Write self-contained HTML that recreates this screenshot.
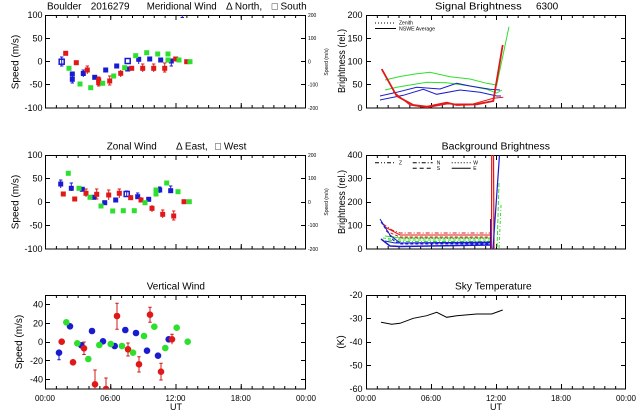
<!DOCTYPE html>
<html><head><meta charset="utf-8"><style>
html,body{margin:0;padding:0;background:#fff;}
svg{display:block;}
text{font-family:"Liberation Sans",sans-serif;fill:#000;}
.t{font-size:10px;}
.k{font-size:9px;}
.x{font-size:8px;}
.s{font-size:5px;}
</style></head><body>
<svg width="640" height="420" viewBox="0 0 640 420" xmlns="http://www.w3.org/2000/svg">
<rect width="640" height="420" fill="#fff"/>
<defs>
<clipPath id="c1"><rect x="45" y="15" width="261" height="93"/></clipPath>
<clipPath id="c2"><rect x="366" y="15" width="260" height="93"/></clipPath>
<clipPath id="c3"><rect x="45" y="155" width="261" height="94"/></clipPath>
<clipPath id="c4"><rect x="366" y="155" width="260" height="94"/></clipPath>
<clipPath id="c5"><rect x="45" y="295" width="261" height="94"/></clipPath>
<clipPath id="c6"><rect x="366" y="295" width="260" height="94"/></clipPath>
</defs>

<!-- ===== Frames and ticks ===== -->
<g fill="none" stroke="#000" stroke-width="1">
<rect x="45.5" y="15.5" width="260" height="92.5"/>
<rect x="366.5" y="15.5" width="259" height="92.5"/>
<rect x="45.5" y="155.5" width="260" height="93.5"/>
<rect x="366.5" y="155.5" width="259" height="93.5"/>
<rect x="45.5" y="295.5" width="260" height="93.5"/>
<rect x="366.5" y="295.5" width="259" height="93.5"/>
</g>
<!-- x minor ticks -->
<g stroke="#000" fill="none">
<g stroke-width="3" stroke-dasharray="1 9.875">
<line x1="45" y1="106.5" x2="306" y2="106.5"/><line x1="45" y1="16.5" x2="306" y2="16.5"/>
<line x1="45" y1="247.5" x2="306" y2="247.5"/><line x1="45" y1="156.5" x2="306" y2="156.5"/>
<line x1="45" y1="387.5" x2="306" y2="387.5"/><line x1="45" y1="296.5" x2="306" y2="296.5"/>
</g>
<g stroke-width="3" stroke-dasharray="1 9.833">
<line x1="366" y1="106.5" x2="626" y2="106.5"/><line x1="366" y1="16.5" x2="626" y2="16.5"/>
<line x1="366" y1="247.5" x2="626" y2="247.5"/><line x1="366" y1="156.5" x2="626" y2="156.5"/>
<line x1="366" y1="387.5" x2="626" y2="387.5"/><line x1="366" y1="296.5" x2="626" y2="296.5"/>
</g>
<g stroke-width="5" stroke-dasharray="1 64.25">
<line x1="45" y1="105.5" x2="306" y2="105.5"/><line x1="45" y1="17.5" x2="306" y2="17.5"/>
<line x1="45" y1="246.5" x2="306" y2="246.5"/><line x1="45" y1="157.5" x2="306" y2="157.5"/>
<line x1="45" y1="386.5" x2="306" y2="386.5"/><line x1="45" y1="297.5" x2="306" y2="297.5"/>
</g>
<g stroke-width="5" stroke-dasharray="1 64">
<line x1="366" y1="105.5" x2="626" y2="105.5"/><line x1="366" y1="17.5" x2="626" y2="17.5"/>
<line x1="366" y1="246.5" x2="626" y2="246.5"/><line x1="366" y1="157.5" x2="626" y2="157.5"/>
<line x1="366" y1="386.5" x2="626" y2="386.5"/><line x1="366" y1="297.5" x2="626" y2="297.5"/>
</g>
</g>
<!-- y ticks -->
<g stroke="#000" stroke-width="1">
<path d="M45,38.5h5M45,61.5h5M45,84.5h5M301,38.5h5M301,61.5h5M301,84.5h5"/>
<path d="M366,38.5h5M366,61.5h5M366,84.5h5M621,38.5h5M621,61.5h5M621,84.5h5"/>
<path d="M45,178.5h5M45,202.5h5M45,225.5h5M301,178.5h5M301,202.5h5M301,225.5h5"/>
<path d="M366,178.5h5M366,202.5h5M366,225.5h5M621,178.5h5M621,202.5h5M621,225.5h5"/>
<path d="M45,304.5h5M45,323.5h5M45,342.5h5M45,360.5h5M45,379.5h5M301,304.5h5M301,323.5h5M301,342.5h5M301,360.5h5M301,379.5h5"/>
<path d="M366,318.5h5M366,342.5h5M366,365.5h5M621,318.5h5M621,342.5h5M621,365.5h5"/>
</g>

<!-- ===== Titles ===== -->
<text class="t" x="47" y="9.5">Boulder</text>
<text class="t" x="90.7" y="9.5">2016279</text>
<text class="t" x="146.7" y="9.5" textLength="70" lengthAdjust="spacingAndGlyphs">Meridional Wind</text>
<text class="t" x="226" y="9.5">Δ North,</text>
<text class="t" x="271.7" y="9.5">□ South</text>

<text class="t" x="435" y="9.5" textLength="86.7" lengthAdjust="spacingAndGlyphs">Signal Brightness</text>
<text class="t" x="536" y="9.5">6300</text>

<text class="t" x="106.7" y="149.5" textLength="50" lengthAdjust="spacingAndGlyphs">Zonal Wind</text>
<text class="t" x="176" y="149.5">Δ East,</text>
<text class="t" x="215" y="149.5">□ West</text>

<text class="t" x="441.7" y="149.5" textLength="108.3" lengthAdjust="spacingAndGlyphs">Background Brightness</text>
<text class="t" x="146.7" y="289.5" textLength="58.3" lengthAdjust="spacingAndGlyphs">Vertical Wind</text>
<text class="t" x="455" y="289.5" textLength="76.7" lengthAdjust="spacingAndGlyphs">Sky Temperature</text>

<!-- ===== Axis titles ===== -->
<text class="t" transform="translate(18.5,62) rotate(-90)" text-anchor="middle">Speed (m/s)</text>
<text class="t" transform="translate(18.5,202) rotate(-90)" text-anchor="middle">Speed (m/s)</text>
<text class="t" transform="translate(22,342) rotate(-90)" text-anchor="middle">Speed (m/s)</text>
<text class="t" transform="translate(345,61) rotate(-90)" text-anchor="middle" textLength="64" lengthAdjust="spacingAndGlyphs">Brightness (rel.)</text>
<text class="t" transform="translate(345,202) rotate(-90)" text-anchor="middle" textLength="64" lengthAdjust="spacingAndGlyphs">Brightness (rel.)</text>
<text class="t" transform="translate(344,342) rotate(-90)" text-anchor="middle">(K)</text>
<text class="s" transform="translate(328,62) rotate(-90)" text-anchor="middle">Speed (m/s)</text>
<text class="s" transform="translate(328,202) rotate(-90)" text-anchor="middle">Speed (m/s)</text>

<!-- ===== Y tick labels ===== -->
<g class="k" text-anchor="end">
<text x="42.5" y="18">100</text><text x="42.5" y="41.5">50</text><text x="42.5" y="64.5">0</text><text x="42.5" y="87.5">-50</text><text x="42.5" y="111">-100</text>
<text x="42.5" y="158">100</text><text x="42.5" y="181.5">50</text><text x="42.5" y="205">0</text><text x="42.5" y="228.5">-50</text><text x="42.5" y="252">-100</text>
<text x="43" y="307.5">40</text><text x="43" y="326.5">20</text><text x="43" y="345">0</text><text x="43" y="364">-20</text><text x="43" y="382.5">-40</text>
<text x="362.5" y="18">200</text><text x="362.5" y="41.5">150</text><text x="362.5" y="64.5">100</text><text x="362.5" y="87.5">50</text><text x="362.5" y="111">0</text>
<text x="362.5" y="158">400</text><text x="362.5" y="181.5">300</text><text x="362.5" y="205">200</text><text x="362.5" y="228.5">100</text><text x="362.5" y="252">0</text>
<text x="362.5" y="298">-20</text><text x="362.5" y="321.5">-30</text><text x="362.5" y="345">-40</text><text x="362.5" y="368.5">-50</text><text x="362.5" y="392">-60</text>
</g>
<g class="s">
<text x="308" y="17">200</text><text x="308" y="40">100</text><text x="308" y="63.5">0</text><text x="308" y="86.5">-100</text><text x="308" y="110">-200</text>
<text x="308" y="157">200</text><text x="308" y="180">100</text><text x="308" y="204">0</text><text x="308" y="227">-100</text><text x="308" y="251">-200</text>
</g>

<!-- ===== X tick labels ===== -->
<g class="x" text-anchor="middle">
<text x="45" y="401">00:00</text><text x="110.3" y="401">06:00</text><text x="175.5" y="401">12:00</text><text x="240.8" y="401">18:00</text><text x="306" y="401">00:00</text>
<text x="366" y="401">00:00</text><text x="431" y="401">06:00</text><text x="496" y="401">12:00</text><text x="561" y="401">18:00</text><text x="626" y="401">00:00</text>
</g>
<text class="k" x="176" y="410" text-anchor="middle">UT</text>
<text class="k" x="496" y="410" text-anchor="middle">UT</text>

<!-- ===== Meridional wind ===== -->
<g clip-path="url(#c1)">
<g stroke-width="1" fill="none">
<path stroke="#1a1ad0" d="M61.7,57v9M60,57h3.4M60,66h3.4M72.3,76v7M70.6,83h3.4M83.3,70v7M81.6,70h3.4M138.7,57v7M171.3,59v7M169.6,66h3.4M182.3,15v2.5M180.6,17.5h3.4"/>
<path stroke="#e01818" d="M87.3,66v8M85.6,66h3.4M98.7,77v9M97,77h3.4M97,86h3.4M109.7,76v9M108,76h3.4M108,85h3.4M120.7,70v7M142.7,64v8M141,64h3.4M153.7,64v8M152,64h3.4M164.7,63v9M163,63h3.4M163,72h3.4"/>
</g>
<g fill="#1a1ad0">
<rect x="59.2" y="59.2" width="5" height="5" fill="none" stroke="#1a1ad0" stroke-width="1.5"/>
<rect x="69.8" y="71.5" width="5" height="5"/><rect x="69.8" y="76.8" width="5" height="5"/>
<rect x="80.8" y="71" width="5" height="5"/><rect x="92.2" y="74.8" width="5" height="5"/>
<rect x="103.2" y="67.5" width="5" height="5"/><rect x="114.2" y="63.5" width="5" height="5"/>
<rect x="125.2" y="58.5" width="5" height="5" fill="none" stroke="#1a1ad0" stroke-width="1.5"/>
<rect x="125.2" y="66.5" width="5" height="5"/><rect x="136.2" y="56.8" width="5" height="5"/>
<rect x="147.2" y="56.5" width="5" height="5"/><rect x="158.2" y="57.5" width="5" height="5"/>
<rect x="168.8" y="58.5" width="5" height="5"/>
</g>
<g fill="#e01818">
<rect x="63.2" y="50.8" width="5" height="5"/><rect x="73.8" y="60.2" width="5" height="5"/>
<rect x="84.8" y="67.5" width="5" height="5"/><rect x="96.2" y="77.5" width="5" height="5"/>
<rect x="96.2" y="80.2" width="5" height="5"/><rect x="107.2" y="78.5" width="5" height="5"/>
<rect x="118.2" y="70.8" width="5" height="5"/><rect x="129.2" y="65.8" width="5" height="5"/>
<rect x="140.2" y="65.8" width="5" height="5"/><rect x="151.2" y="65.8" width="5" height="5"/>
<rect x="162.2" y="65.8" width="5" height="5"/><rect x="173.2" y="56.5" width="5" height="5"/>
<rect x="184.2" y="59.2" width="5" height="5"/>
</g>
<g fill="#2ee02e">
<rect x="66.5" y="65.8" width="5" height="5"/><rect x="77.5" y="81.5" width="5" height="5"/>
<rect x="88.2" y="85.2" width="5" height="5"/><rect x="100.2" y="80.8" width="5" height="5"/>
<rect x="111.2" y="73.5" width="5" height="5"/><rect x="122.2" y="65.2" width="5" height="5"/>
<rect x="133.2" y="53.2" width="5" height="5"/><rect x="144.2" y="50.2" width="5" height="5"/>
<rect x="155.2" y="51.5" width="5" height="5"/><rect x="165.5" y="51.5" width="5" height="5"/>
<rect x="165.5" y="57.5" width="5" height="5"/><rect x="176.5" y="57.5" width="5" height="5"/>
<rect x="187.5" y="59.2" width="5" height="5"/>
</g>
</g>

<!-- ===== Zonal wind ===== -->
<g clip-path="url(#c3)">
<g stroke-width="1" fill="none">
<path stroke="#1a1ad0" d="M60.7,180v8M59,180h3.4M71.3,183v8M69.6,183h3.4M126.7,191v6M125,191h3.4M137.7,193v6M136,193h3.4M159.7,187v6M158,187h3.4M170.7,186v6M169,186h3.4"/>
<path stroke="#e01818" d="M86,189v8M84.3,189h3.4M96.7,189v10M95,189h3.4M95,199h3.4M108.7,190v10M107,190h3.4M119.3,189v9M117.6,189h3.4M130.7,195v5M141,197v5M152,205v7M162.7,210v8M161,210h3.4M173.7,211v9M172,211h3.4M172,220h3.4"/>
</g>
<g fill="#1a1ad0">
<rect x="58.2" y="181.5" width="5" height="5"/><rect x="68.8" y="185.8" width="5" height="5"/>
<rect x="79.8" y="186.8" width="5" height="5"/><rect x="91.2" y="194.8" width="5" height="5"/>
<rect x="102.2" y="200.2" width="5" height="5"/><rect x="113.2" y="197.5" width="5" height="5"/>
<rect x="124.2" y="191.5" width="5" height="5" fill="none" stroke="#1a1ad0" stroke-width="1.5"/>
<rect x="135.2" y="194.2" width="5" height="5"/><rect x="146.2" y="196.8" width="5" height="5"/>
<rect x="157.2" y="187.5" width="5" height="5"/><rect x="168.2" y="188.2" width="5" height="5"/>
</g>
<g fill="#e01818">
<rect x="60.8" y="191.5" width="5" height="5"/><rect x="72.2" y="196.5" width="5" height="5"/>
<rect x="83.5" y="190.8" width="5" height="5"/><rect x="94.2" y="191.8" width="5" height="5"/>
<rect x="106.2" y="192.5" width="5" height="5"/><rect x="116.8" y="190.8" width="5" height="5"/>
<rect x="128.2" y="195.2" width="5" height="5"/><rect x="138.5" y="197.5" width="5" height="5"/>
<rect x="149.5" y="205.8" width="5" height="5"/><rect x="160.2" y="211.8" width="5" height="5"/>
<rect x="171.2" y="213.5" width="5" height="5"/><rect x="181.5" y="199.2" width="5" height="5"/>
</g>
<g fill="#2ee02e">
<rect x="65.8" y="170.8" width="5" height="5"/><rect x="76.5" y="185.8" width="5" height="5"/>
<rect x="87.5" y="194.8" width="5" height="5"/><rect x="98.5" y="203.5" width="5" height="5"/>
<rect x="110.2" y="208.5" width="5" height="5"/><rect x="120.8" y="208.2" width="5" height="5"/>
<rect x="131.8" y="208.2" width="5" height="5"/><rect x="142.5" y="200.2" width="5" height="5"/>
<rect x="153.5" y="187.5" width="5" height="5"/><rect x="153.5" y="191.5" width="5" height="5"/>
<rect x="164.2" y="180.5" width="5" height="5"/><rect x="175.5" y="189.2" width="5" height="5"/>
<rect x="186.8" y="199.2" width="5" height="5"/>
</g>
</g>

<!-- ===== Vertical wind ===== -->
<g clip-path="url(#c5)">
<g stroke="#d01818" stroke-width="1" fill="none">
<path d="M84,342v12.5M82.3,342h3.4M82.3,354.5h3.4M95,370v19M93.3,370h3.4M106,378v11M104.3,378h3.4M117,303.3v26M115.3,303.3h3.4M115.3,329.3h3.4M128,343v13M126.3,343h3.4M126.3,356h3.4M139,356.7v15.3M137.3,356.7h3.4M137.3,372h3.4M150,307.3v15M148.3,307.3h3.4M148.3,322.3h3.4M161,363.3v16.7M159.3,363.3h3.4M159.3,380h3.4M172,334.3v10M170.3,334.3h3.4"/>
<path stroke="#1a1ad0" d="M59,352.7v7M57.3,359.7h3.4"/>
</g>
<g fill="#1a1ad0">
<circle cx="59" cy="352.7" r="3.3"/><circle cx="70" cy="326.3" r="3.3"/><circle cx="81.3" cy="345.3" r="3.3"/>
<circle cx="92" cy="331" r="3.3"/><circle cx="103" cy="341.3" r="3.3"/><circle cx="114.7" cy="346" r="3.3"/>
<circle cx="125.3" cy="330" r="3.3"/><circle cx="136" cy="333" r="3.3"/><circle cx="147" cy="350.7" r="3.3"/>
<circle cx="158" cy="355.7" r="3.3"/><circle cx="168.7" cy="339.3" r="3.3"/>
</g>
<g fill="#e01818">
<circle cx="61.7" cy="341.7" r="3.3"/><circle cx="73" cy="362.3" r="3.3"/><circle cx="84" cy="348.3" r="3.3"/>
<circle cx="95" cy="384.3" r="3.3"/><circle cx="106" cy="389" r="3.3"/><circle cx="117" cy="316" r="3.3"/>
<circle cx="128" cy="349.3" r="3.3"/><circle cx="139" cy="364.3" r="3.3"/><circle cx="150" cy="314.7" r="3.3"/>
<circle cx="161" cy="371.7" r="3.3"/><circle cx="172" cy="339.3" r="3.3"/>
</g>
<g fill="#2ee02e">
<circle cx="66.3" cy="322.3" r="3.3"/><circle cx="77.3" cy="343.3" r="3.3"/><circle cx="88.3" cy="359" r="3.3"/>
<circle cx="99.3" cy="345" r="3.3"/><circle cx="110.7" cy="344" r="3.3"/><circle cx="122" cy="346" r="3.3"/>
<circle cx="133" cy="352.7" r="3.3"/><circle cx="144" cy="336" r="3.3"/><circle cx="154.3" cy="326.7" r="3.3"/>
<circle cx="165.3" cy="348" r="3.3"/><circle cx="176.7" cy="327.7" r="3.3"/><circle cx="187.7" cy="341.7" r="3.3"/>
</g>
</g>

<!-- ===== Signal brightness ===== -->
<g clip-path="url(#c2)" fill="none" stroke-width="1">
<path stroke="#2ee02e" d="M385,80 L400,76.5 L415,74 L430,72.3 L450,76.7 L470,79 L486.7,83.3 L496.7,85 L509,26.7"/>
<path stroke="#2ee02e" d="M385,90 L396.7,87.3 L426.7,82.3 L446.7,82.7 L470,86 L486.7,89.3 L496.7,93 L502,90"/>
<path stroke="#1a1ad0" d="M380,96 L396.7,92.3 L416.7,87.3 L440,89 L456.7,83.3 L470,86 L490,89.3 L500,90"/>
<path stroke="#1a1ad0" d="M380,100 L403.3,95.3 L423.3,89.3 L436.7,94.3 L460,90 L480,92.3 L496.7,96 L501,96"/>
<path stroke="#e01818" stroke-width="1.8" d="M381.7,69 L396.7,96 L413.3,105 L426.7,106.7 L446.7,102.7 L456.7,105 L476.7,104.3 L493.3,101 L502.7,45"/>
<path stroke="#e01818" d="M393.3,91.7 L410,105 L426.7,107.7 L446.7,104 L473,104 L493.3,98.3 L503.3,97.3"/>
</g>
<g fill="none" stroke="#000" stroke-width="1">
<path d="M375,23h21" stroke-dasharray="1 2"/>
<path d="M375,28.5h21"/>
</g>
<text class="s" x="399" y="24.7">Zenith</text>
<text class="s" x="399" y="30.3" textLength="36" lengthAdjust="spacingAndGlyphs">NSWE Average</text>

<!-- ===== Background brightness ===== -->
<g clip-path="url(#c4)" fill="none" stroke-width="1">
<path stroke="#e01818" stroke-dasharray="4 2 1 2" d="M383,224 L392,230 L400,233 L490,233"/>
<path stroke="#e01818" d="M385,227 L400,235 L490,235"/>
<path stroke="#e01818" stroke-dasharray="3 2" d="M386,231 L400,237 L490,237"/>
<path stroke="#e01818" stroke-dasharray="1 2" d="M390,236 L400,238.5 L490,238.5"/>
<path stroke="#2ee02e" d="M385,236 L400,238 L490,238"/>
<path stroke="#2ee02e" stroke-dasharray="3 2" d="M383,238 L400,240 L490,240"/>
<path stroke="#2ee02e" stroke-dasharray="4 2 1 2" d="M388,240 L400,241.5 L490,241.5"/>
<path stroke="#1a1ad0" d="M380,219 L390,235 L400,243 L490,243"/>
<path stroke="#1a1ad0" stroke-dasharray="3 2" d="M381,222 L393,240 L400,244 L490,244"/>
<path stroke="#1a1ad0" stroke-width="1.5" d="M381,239 L390,246 L400,246.5 L490,245"/>
<path stroke="#1a1ad0" d="M385,241 L395,243 L490,242"/>
<path stroke="#e01818" stroke-width="1.2" d="M491.5,249 L491.7,155"/>
<path stroke="#e01818" stroke-width="1.2" d="M494,249 L493.5,155"/>
<path stroke="#1a1ad0" stroke-width="1.2" d="M493,249 L499.5,155"/>
<path stroke="#1a1ad0" d="M490.5,219 L490.5,249"/>
<path stroke="#2ee02e" stroke-dasharray="4 2" d="M499,183 L497,249"/>
<path stroke="#2ee02e" stroke-dasharray="3 2 1 2" d="M501,205 L499,249"/>
</g>
<g fill="none" stroke="#000" stroke-width="1">
<path d="M375,162.7h21" stroke-dasharray="4 2 1 2 1 2"/>
<path d="M412.7,162.7h20" stroke-dasharray="4 2 1 2"/>
<path d="M412.7,168.3h20" stroke-dasharray="4 3"/>
<path d="M451.7,162.7h19" stroke-dasharray="1 2"/>
<path d="M451.7,168.3h19"/>
</g>
<g class="s">
<text x="399" y="164.5">Z</text>
<text x="436.7" y="164.5">N</text>
<text x="436.7" y="170.2">S</text>
<text x="473.3" y="164.5">W</text>
<text x="473.3" y="170.2">E</text>
</g>

<!-- ===== Sky temperature ===== -->
<polyline clip-path="url(#c6)" fill="none" stroke="#000" stroke-width="1" points="381,322.3 391.7,324.3 400,323.3 413.3,318.3 426.7,315.7 436.7,312.3 446.7,317.3 456.7,315.7 476.7,314 491.7,314 502.7,310"/>
</svg>
</body></html>
